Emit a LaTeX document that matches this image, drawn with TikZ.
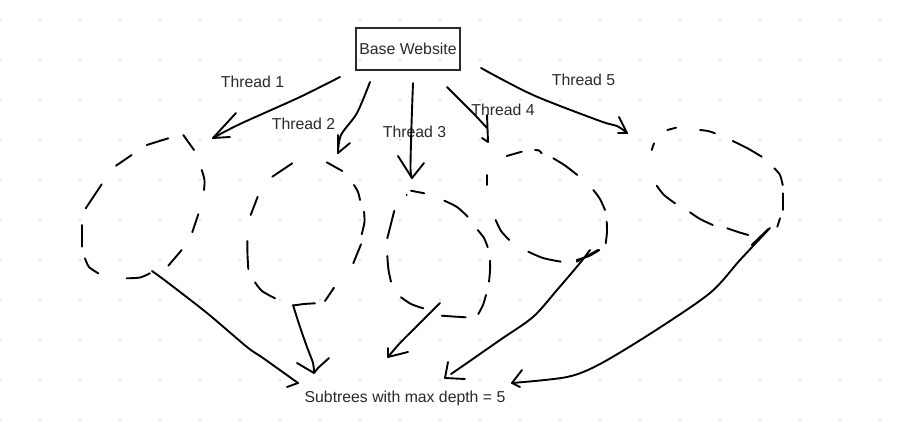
\documentclass[tikz,border=0pt]{standalone}
\usepackage{fontspec}
\setmainfont{Liberation Sans}
\definecolor{dotc}{HTML}{D8D8D8}
\definecolor{txt}{HTML}{2A2A2A}
\definecolor{ink}{HTML}{000000}
\tikzset{
  pen/.style={draw=ink, line width=1.9pt, line cap=round, line join=round},
  lbl/.style={text=txt, font=\fontsize{15.8}{18}\selectfont, inner sep=0pt, anchor=center},
  basebox/.style={draw=txt, line width=1.2pt, minimum width=104pt, minimum height=42pt, inner sep=0pt, text=txt, font=\fontsize{15.8}{18}\selectfont},
}
\begin{document}
\begin{tikzpicture}[x=1pt,y=-1pt]
\useasboundingbox[fill=white] (0,0) rectangle (904,439);
% grid dots
\foreach \i in {0,...,22} \foreach \j in {0,...,10} \fill[dotc] ({40*\i},{20+40*\j}) circle (1.1pt);

% nodes
\node[basebox] (base) at (408,49) {Base Website};
\node[lbl] (t1) at (252.5,82) {Thread 1};
\node[lbl] (t2) at (303.5,124) {Thread 2};
\node[lbl] (t3) at (414.5,132) {Thread 3};
\node[lbl] (t4) at (503,109.5) {Thread 4};
\node[lbl] (t5) at (583.5,80) {Thread 5};
\node[lbl] (sub) at (405,398.5) {Subtrees with max depth = 5};

% arrow ends
\coordinate (s1) at (340,77);  \coordinate (e1) at (213,138);
\coordinate (s2) at (370,82);  \coordinate (e2) at (338,153);
\coordinate (s3) at (413,83);  \coordinate (e3) at (412,178);
\coordinate (s4) at (447,87);  \coordinate (e4) at (488,142);
\coordinate (s5) at (481,68);  \coordinate (e5) at (627,133);
\coordinate (b1) at (152,271); \coordinate (f1) at (298,383);
\coordinate (b2) at (293,305); \coordinate (f2) at (314,373);
\coordinate (b3) at (440,303); \coordinate (f3) at (388,357);
\coordinate (b4) at (590,250); \coordinate (f4) at (445,378);
\coordinate (b5) at (770,228); \coordinate (f5) at (512,383);

% thread arrows
\draw[pen] plot[smooth] coordinates {(s1) (300,97) (240,124) (e1)};
\draw[pen] (236,113) -- (e1) -- (230,137);
\draw[pen] plot[smooth] coordinates {(s2) (357,113) (341,135) (e2)};
\draw[pen] (338,135) -- (e2) -- (350,143);
\draw[pen] plot[smooth] coordinates {(s3) (411.5,125) (410.5,168) (e3)};
\draw[pen] (398,156) -- (e3) -- (424,163);
\draw[pen] plot[smooth] coordinates {(s4) (473,113) (487,128)};
\draw[pen] (487,115) -- (e4) -- (482,138);
\draw[pen] plot[smooth] coordinates {(s5) (533,95) (600,121) (617,126) (e5)};
\draw[pen] (619,117) -- (e5) -- (618,133);

% bottom arrows
\draw[pen] plot[smooth] coordinates {(b1) (167,282) (207,313) (247,347) (263,358) (f1)};
\draw[pen] (287,387) -- (f1);
\draw[pen] plot[smooth] coordinates {(b2) (300,327) (307,347) (313,363) (f2)};
\draw[pen] (297,363) -- (f2) -- (318,368) -- (329,358);
\draw[pen] plot[smooth] coordinates {(b3) (418,325) (400,343) (f3)};
\draw[pen] (388,348) -- (f3) -- (408,352);
\draw[pen] plot[smooth] coordinates {(b4) (580,263) (557,290) (533,317) (500,340) (467,363) (451,374)};
\draw[pen] (448,362) -- (f4) -- (465,379);
\draw[pen] (576.7,261.7) -- (598,250);
\draw[pen] plot[smooth] coordinates {(b5) (740,260) (710,293) (653,332) (600,364) (567,377) (f5)};
\draw[pen] (522,370) -- (f5) -- (520,387);
\draw[pen] (751.7,245) -- (768.3,229);

% blob 1
\draw[pen] (146.7,145) -- (168.3,138.3);
\draw[pen] (183.3,135) -- (194,150);
\draw[pen] (116,165.7) -- (131.7,155);
\draw[pen] plot[smooth] coordinates {(201.7,170) (204.5,180) (204,190)};
\draw[pen] (101.7,184.3) -- (85.7,208.3);
\draw[pen] (198.3,214.3) -- (192.3,232.3);
\draw[pen] (82.3,225) -- (82.3,246.7);
\draw[pen] (181.7,250) -- (168.3,265.7);
\draw[pen] plot[smooth] coordinates {(85,258.3) (89,267) (98.3,273.3)};
\draw[pen] plot[smooth] coordinates {(126.7,278.3) (140,277.5) (150,273.3)};

% blob 2
\draw[pen] (272.3,176.7) -- (292.3,163.3);
\draw[pen] (326.7,162.3) -- (342.3,171);
\draw[pen] (257.7,196.7) -- (250.7,215);
\draw[pen] plot[smooth] coordinates {(354,185) (358,192) (360,200)};
\draw[pen] plot[smooth] coordinates {(364,211.7) (364.5,222) (361.7,234.3)};
\draw[pen] plot[smooth] coordinates {(247.3,241) (247.5,255) (248.3,269)};
\draw[pen] (361,244.3) -- (353.3,263.3);
\draw[pen] plot[smooth] coordinates {(255,282.3) (262,291) (275,298.3)};
\draw[pen] (334,287.7) -- (325,301);
\draw[pen] plot[smooth] coordinates {(293.3,305.5) (304,304) (315,303.3)};

% blob 3
\draw[pen] (411,190.7) -- (424.3,193.3);
\fill[ink] (406.7,195) circle (1pt);
\draw[pen] plot[smooth] coordinates {(444.3,200.7) (457,207) (467.7,216.7)};
\draw[pen] (394.3,210.7) -- (387.3,238.3);
\draw[pen] plot[smooth] coordinates {(477.7,230) (484,238) (487.7,247.3)};
\draw[pen] plot[smooth] coordinates {(387.3,256) (388.5,270) (391,281.7)};
\draw[pen] plot[smooth] coordinates {(490,260.7) (490,271) (489,281.7)};
\draw[pen] plot[smooth] coordinates {(401,297.3) (411,304) (423.3,308.3)};
\draw[pen] plot[smooth] coordinates {(486,295) (483,305) (478.3,314)};
\draw[pen] plot[smooth] coordinates {(441.7,315.7) (453,316.5) (465.7,317.3)};

% blob 4
\draw[pen] (506.7,156) -- (521.7,151.7);
\draw[pen] plot[smooth] coordinates {(535,150) (539,150.5) (541.7,153.3)};
\draw[pen] plot[smooth] coordinates {(553.3,158.3) (565,165.5) (577.3,175)};
\draw[pen] (486.7,175) -- (486.7,185);
\draw[pen] plot[smooth] coordinates {(593.3,190) (600,199) (605,210)};
\draw[pen] plot[smooth] coordinates {(495.7,220) (501,231) (509.3,240)};
\draw[pen] plot[smooth] coordinates {(606.7,221.7) (607,232) (605.7,243.3)};
\draw[pen] plot[smooth] coordinates {(528.3,251.7) (543,258) (560.7,261.7)};
\draw[pen] plot[smooth] coordinates {(576.7,260) (589,256) (599.3,250)};

% blob 5
\draw[pen] (667.3,130) -- (676,127.7);
\draw[pen] plot[smooth] coordinates {(700,130) (708,131) (715,133.3)};
\draw[pen] plot[smooth] coordinates {(732.7,141) (747,148) (761.7,156.7)};
\draw[pen] (654,143.3) -- (651.7,150);
\draw[pen] plot[smooth] coordinates {(774.3,168.3) (780,175) (782.7,185)};
\draw[pen] plot[smooth] coordinates {(656.7,185.7) (664,195) (675,203.3)};
\draw[pen] (782.7,193.3) -- (782.7,210);
\draw[pen] plot[smooth] coordinates {(690,212.3) (700,219) (712.7,225)};
\draw[pen] (780,218.3) -- (777.3,226.7);
\draw[pen] plot[smooth] coordinates {(727.3,228.3) (738,232) (748.3,235)};
\end{tikzpicture}
\end{document}
